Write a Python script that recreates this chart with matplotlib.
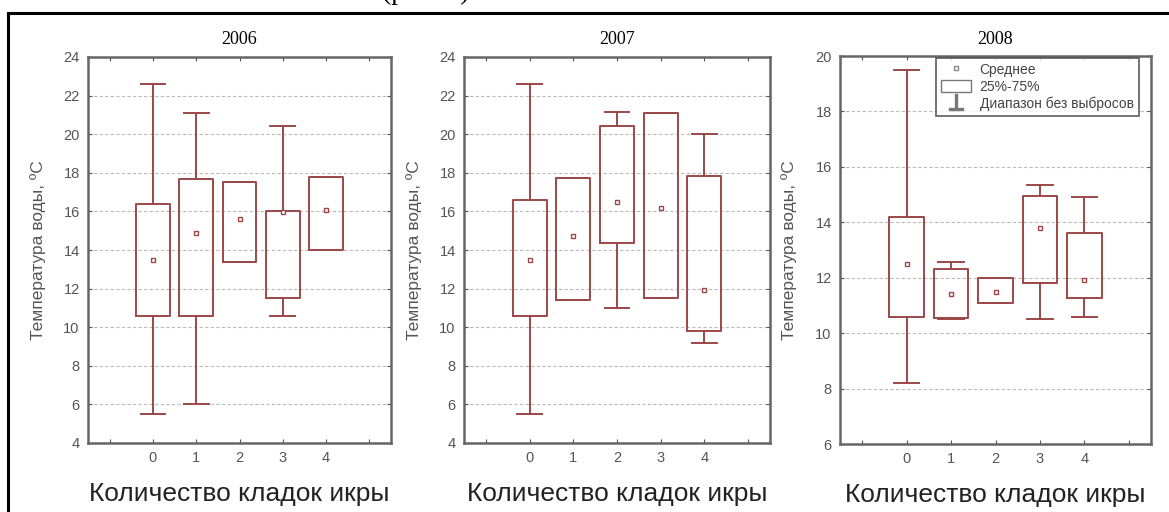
import matplotlib
matplotlib.use("Agg")
import matplotlib.pyplot as plt
from matplotlib.lines import Line2D
from matplotlib.patches import Patch

plt.rcParams['font.family'] = ['Liberation Sans', 'DejaVu Sans']

cats = [0, 1, 2, 3, 4]
years = ['2006', '2007', '2008']

# 25%, 75%, whisker low/high, mean for every year
q1_2006 = [10.6, 10.6, 13.4, 11.5, 14.0]
q3_2006 = [16.4, 17.7, 17.5, 16.0, 17.8]
lo_2006 = [5.5, 6.0, 13.4, 10.6, 14.0]
hi_2006 = [22.6, 21.1, 17.5, 20.4, 17.8]
mean_2006 = [13.5, 14.9, 15.6, 15.95, 16.05]

q1_2007 = [10.6, 11.4, 14.35, 11.5, 9.8]
q3_2007 = [16.6, 17.75, 20.4, 21.1, 17.85]
lo_2007 = [5.5, 11.4, 11.0, 11.5, 9.2]
hi_2007 = [22.6, 17.75, 21.15, 21.1, 20.0]
mean_2007 = [13.5, 14.7, 16.5, 16.2, 11.95]

q1_2008 = [10.6, 10.55, 11.1, 11.8, 11.25]
q3_2008 = [14.2, 12.3, 12.0, 14.95, 13.6]
lo_2008 = [8.2, 10.5, 11.1, 10.5, 10.6]
hi_2008 = [19.5, 12.55, 12.0, 15.35, 14.9]
mean_2008 = [12.5, 11.4, 11.5, 13.8, 11.9]

ylims = [(4, 24), (4, 24), (6, 20)]

xlabel = 'Количество кладок икры'
ylabel = 'Температура воды, ºС'
legend_labels = ['Среднее', '25%-75%', 'Диапазон без выбросов']

red = '#9c4848'
grey = '#555555'

data = [
    (q1_2006, q3_2006, lo_2006, hi_2006, mean_2006),
    (q1_2007, q3_2007, lo_2007, hi_2007, mean_2007),
    (q1_2008, q3_2008, lo_2008, hi_2008, mean_2008),
]

W, H = 1169, 512
fig = plt.figure(figsize=(W / 100, H / 100), dpi=100)

# axes boxes in pixels: left, right, top, bottom
boxes_px = [(88, 391, 57, 443), (464, 770, 57, 443), (840, 1151, 56, 444)]

axes = []
for (l, r, t, b) in boxes_px:
    ax = fig.add_axes([l / W, 1 - b / H, (r - l) / W, (b - t) / H])
    axes.append(ax)

for i, ax in enumerate(axes):
    q1, q3, lo, hi, mn = data[i]
    stats = []
    for k in range(len(cats)):
        stats.append(dict(q1=q1[k], q3=q3[k], med=q1[k], whislo=lo[k],
                          whishi=hi[k], mean=mn[k], fliers=[]))
    ax.bxp(stats, positions=cats, widths=0.78, capwidths=0.57,
           showmeans=True, showfliers=False,
           boxprops=dict(color=red, linewidth=1.4),
           whiskerprops=dict(color=red, linewidth=1.4),
           capprops=dict(color=red, linewidth=1.4),
           medianprops=dict(linestyle='none'),
           meanprops=dict(marker='s', markersize=3.5, markerfacecolor='white',
                          markeredgecolor=red, markeredgewidth=1))

    ax.set_xlim(-1.5, 5.5)
    ax.set_ylim(*ylims[i])
    ax.set_xticks(range(-1, 6))
    ax.set_xticklabels([''] + [str(c) for c in cats] + [''])
    ax.set_yticks(range(ylims[i][0], ylims[i][1] + 1, 2))
    ax.tick_params(direction='in', length=3, top=True, right=True,
                   colors=grey, labelsize=10.5, pad=6)
    ax.grid(axis='y', color='#bbbbbb', linestyle=(0, (3, 2)), linewidth=0.8)
    for s in ax.spines.values():
        s.set_color('#666666')
        s.set_linewidth(1.8)

    ax.set_title(years[i], family=['Liberation Serif'], fontsize=13, pad=9)
    ax.set_xlabel(xlabel, fontsize=19, color='#222222', labelpad=12)
    ax.set_ylabel(ylabel, fontsize=12.5, color=grey)
    ax.yaxis.set_label_coords(-0.137, 0.5)

handles = [
    Line2D([], [], marker='s', linestyle='none', markersize=3.5,
           markerfacecolor='white', markeredgecolor='#888888'),
    Patch(facecolor='white', edgecolor='#777777'),
    Line2D([], [], marker=r'$\perp$', linestyle='none', markersize=11,
           color='#777777'),
]
leg = axes[2].legend(handles, legend_labels, loc='upper right',
                     bbox_to_anchor=(0.96, 0.995), borderaxespad=0,
                     fontsize=10, frameon=True, fancybox=False,
                     handlelength=2.2, handleheight=1.0, handletextpad=0.6,
                     labelspacing=0.2, borderpad=0.35)
leg.get_frame().set_edgecolor('#444444')
leg.get_frame().set_linewidth(1.3)
for txt in leg.get_texts():
    txt.set_color('#444444')

# page frame lines (top and left) and caption cut by the top edge
fig.add_artist(Line2D([8 / W, 1], [1 - 13 / H, 1 - 13 / H], color='black',
                      linewidth=2.2))
fig.add_artist(Line2D([8 / W, 8 / W], [0, 1 - 13 / H], color='black',
                      linewidth=2.2))
fig.text(382 / W, 1 + 1 / H, '(рис. 3)', family=['Liberation Serif'],
         fontsize=20, va='baseline', ha='left')

fig.savefig('out.png', dpi=100)
